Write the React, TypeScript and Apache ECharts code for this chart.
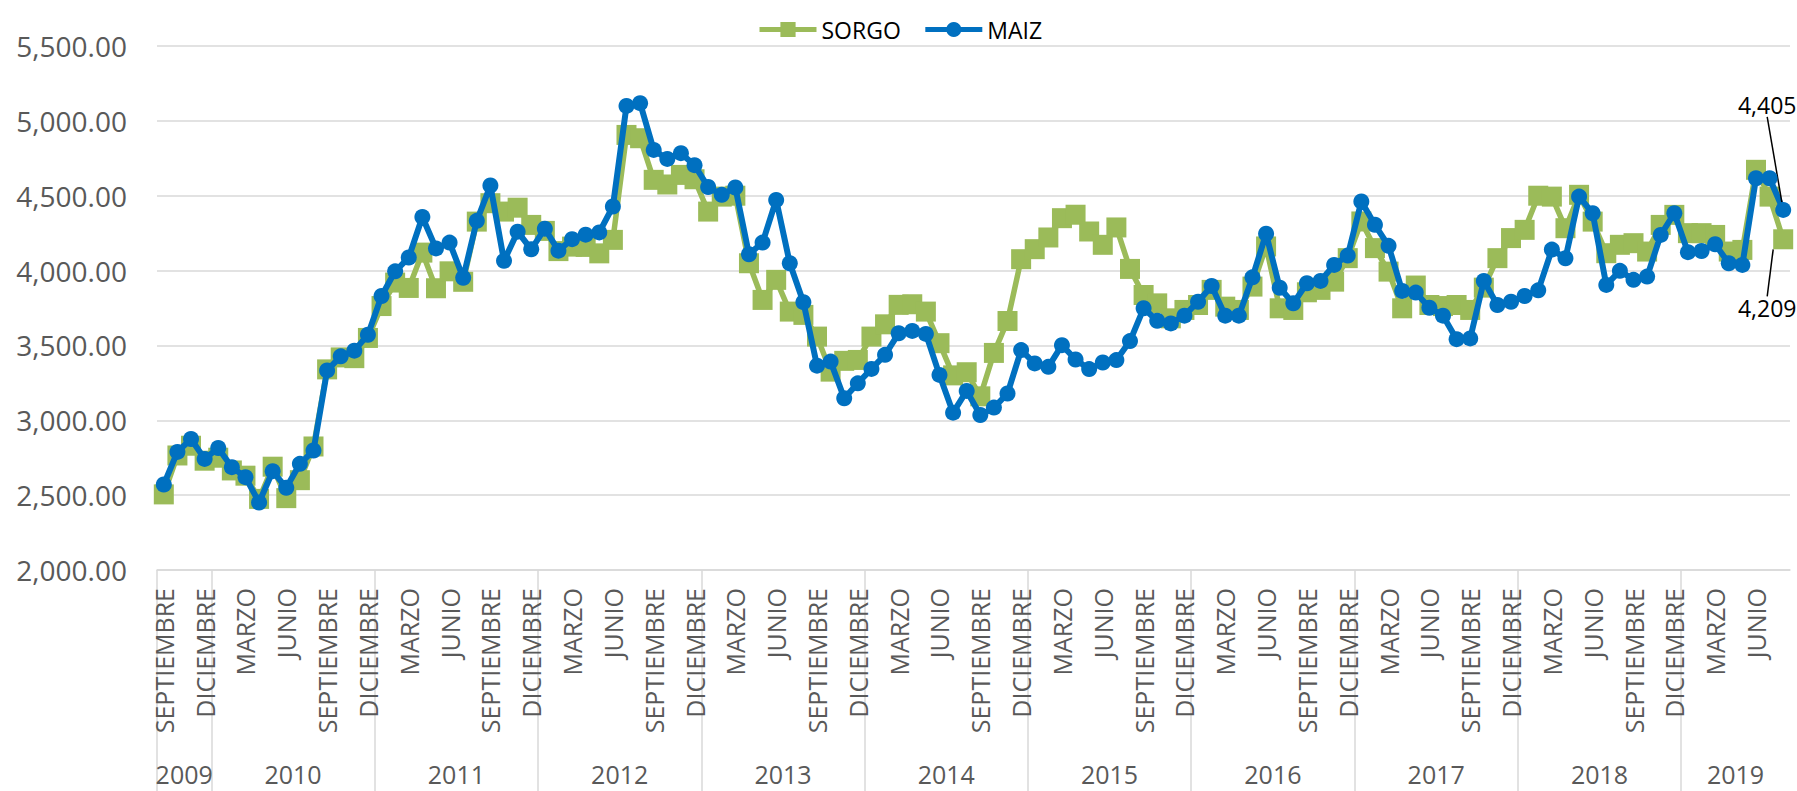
import React, { useEffect, useRef } from "react";
import * as echarts from "echarts";

const MONTH_NAMES = ["ENERO", "FEBRERO", "MARZO", "ABRIL", "MAYO", "JUNIO", "JULIO", "AGOSTO", "SEPTIEMBRE", "OCTUBRE", "NOVIEMBRE", "DICIEMBRE"];
const YEARS = ["2009", "2010", "2011", "2012", "2013", "2014", "2015", "2016", "2017", "2018", "2019"];
const MONTHS_IN_YEAR = [4, 12, 12, 12, 12, 12, 12, 12, 12, 12, 8];
const FIRST_MONTH = 8; // SEPTIEMBRE 2009

const SORGO = [
  2505, 2765, 2830, 2730, 2750, 2665, 2630, 2475, 2690, 2480, 2600, 2825,
  3340, 3420, 3415, 3550, 3763, 3920, 3884, 4120, 3882, 3995, 3925, 4327,
  4450, 4394, 4420, 4305, 4265, 4130, 4160, 4158, 4115, 4205, 4906, 4884,
  4606, 4575, 4639, 4610, 4394, 4494, 4500, 4049, 3804, 3938, 3726, 3704,
  3559, 3325, 3397, 3403, 3559, 3641, 3771, 3775, 3726, 3515, 3300, 3321,
  3160, 3450, 3663, 4076, 4143, 4221, 4350, 4373, 4261, 4172, 4288, 4011,
  3837, 3781, 3681, 3737, 3770, 3871, 3759, 3737, 3893, 4161, 3748, 3737,
  3855, 3871, 3926, 4083, 4328, 4150, 3993, 3748, 3900, 3770, 3763, 3770,
  3737, 3886, 4083, 4217, 4272, 4500, 4494, 4283, 4506, 4327, 4116, 4172,
  4183, 4127, 4305, 4372, 4250, 4250, 4238, 4127, 4138, 4673, 4494, 4209,
];

const MAIZ = [
  2571, 2789, 2875, 2742, 2815, 2687, 2620, 2451, 2660, 2549, 2709, 2798,
  3333, 3427, 3465, 3571, 3830, 3995, 4087, 4358, 4148, 4187, 3952, 4332,
  4568, 4065, 4260, 4142, 4280, 4133, 4210, 4240, 4255, 4428, 5100, 5118,
  4806, 4746, 4784, 4704, 4558, 4506, 4555, 4109, 4187, 4472, 4049, 3789,
  3365, 3392, 3147, 3247, 3343, 3437, 3581, 3597, 3577, 3303, 3051, 3196,
  3035, 3085, 3179, 3469, 3380, 3357, 3502, 3406, 3342, 3386, 3402, 3529,
  3748, 3665, 3647, 3699, 3792, 3897, 3699, 3699, 3955, 4246, 3885, 3781,
  3915, 3931, 4038, 4100, 4462, 4306, 4165, 3864, 3853, 3752, 3699, 3542,
  3547, 3931, 3770, 3792, 3830, 3868, 4140, 4082, 4494, 4383, 3904, 3998,
  3938, 3960, 4238, 4383, 4123, 4131, 4176, 4049, 4038, 4617, 4617, 4405,
];

const Y_MIN = 2000;
const Y_MAX = 5500;
const Y_STEP = 500;

const FONT = "'Open Sans', 'Liberation Sans', sans-serif";

function buildCategories() {
  const months: string[] = [];
  YEARS.forEach((_, yi) => {
    const start = yi === 0 ? FIRST_MONTH : 0;
    for (let m = 0; m < MONTHS_IN_YEAR[yi]; m++) months.push(MONTH_NAMES[start + m]);
  });
  return months;
}

function buildYearGrid(total: number) {
  // half-month grid, boundaryGap false: index j sits at j/2 months from the left edge
  const labels: string[] = new Array(total * 2 + 1).fill("");
  const boundaries = new Set<number>();
  let cum = 0;
  YEARS.forEach((y, yi) => {
    const c = MONTHS_IN_YEAR[yi];
    boundaries.add(2 * cum);
    labels[2 * cum + c] = y;
    cum += c;
  });
  return { labels, boundaries };
}

export default function App() {
  const ref = useRef<HTMLDivElement>(null);

  useEffect(() => {
    if (!ref.current) return;
    const chart = echarts.init(ref.current, undefined, { renderer: "svg" });
    const months = buildCategories();
    const n = months.length;
    const { labels: yearLabels, boundaries } = buildYearGrid(n);

    const lastLabel = (pos: string) => ({
      show: true,
      position: pos,
      color: "#000000",
      fontFamily: FONT,
      fontSize: 23,
      formatter: (p: any) => Number(p.value).toLocaleString("en-US"),
    });

    const sorgoData = SORGO.map((v, i) => (i === n - 1 ? { value: v, label: lastLabel("bottom") } : v));
    const maizData = MAIZ.map((v, i) => (i === n - 1 ? { value: v, label: lastLabel("top") } : v));

    chart.setOption({
      animation: false,
      backgroundColor: "#ffffff",
      legend: {
        top: 13,
        left: 752,
        itemWidth: 57,
        itemHeight: 19,
        itemGap: 22,
        lineStyle: { width: 5 },
        textStyle: { fontFamily: FONT, fontSize: 23, color: "#000000" },
        data: ["SORGO", "MAIZ"],
      },
      grid: { left: 157, right: 7, top: 46, bottom: 221, containLabel: false },
      xAxis: [
        {
          type: "category",
          data: months,
          boundaryGap: true,
          position: "bottom",
          axisLine: { show: true, lineStyle: { color: "#d9d9d9", width: 1.5 } },
          axisTick: { show: false },
          splitLine: { show: false },
          axisLabel: {
            interval: 2,
            rotate: 90,
            margin: 18,
            color: "#595959",
            fontFamily: FONT,
            fontSize: 25,
          },
        },
        {
          type: "category",
          data: yearLabels,
          boundaryGap: false,
          position: "bottom",
          axisLine: { show: false },
          axisTick: {
            show: true,
            length: 222,
            interval: (idx: number) => boundaries.has(idx),
            lineStyle: { color: "#d9d9d9", width: 1.5 },
          },
          axisLabel: {
            interval: 0,
            margin: 191,
            color: "#595959",
            fontFamily: FONT,
            fontSize: 25,
            lineHeight: 26,
          },
          splitLine: { show: false },
        },
      ],
      yAxis: {
        type: "value",
        min: Y_MIN,
        max: Y_MAX,
        interval: Y_STEP,
        axisLine: { show: false },
        axisTick: { show: false },
        splitLine: { lineStyle: { color: "#d9d9d9", width: 1.6 } },
        axisLabel: {
          margin: 30,
          color: "#595959",
          fontFamily: FONT,
          fontSize: 28,
          formatter: (v: number) => v.toLocaleString("en-US", { minimumFractionDigits: 2, maximumFractionDigits: 2 }),
        },
      },
      series: [
        {
          name: "SORGO",
          type: "line",
          data: sorgoData,
          symbol: "rect",
          symbolSize: 20,
          showAllSymbol: true,
          itemStyle: { color: "#9BBB59" },
          lineStyle: { color: "#9BBB59", width: 5.5 },
          labelLine: { show: true, lineStyle: { color: "#000000", width: 1.5 } },
          labelLayout: { dx: -16, dy: 42 },
          z: 2,
        },
        {
          name: "MAIZ",
          type: "line",
          data: maizData,
          symbol: "circle",
          symbolSize: 16,
          showAllSymbol: true,
          itemStyle: { color: "#0070C0" },
          lineStyle: { color: "#0070C0", width: 6 },
          labelLine: { show: true, lineStyle: { color: "#000000", width: 1.5 } },
          labelLayout: { dx: -16, dy: -80 },
          z: 3,
        },
      ],
    });

    return () => chart.dispose();
  }, []);

  return (
    <div
      ref={ref}
      style={{ position: "fixed", left: 0, top: 0, width: 1797, height: 791, background: "#fff" }}
    />
  );
}
